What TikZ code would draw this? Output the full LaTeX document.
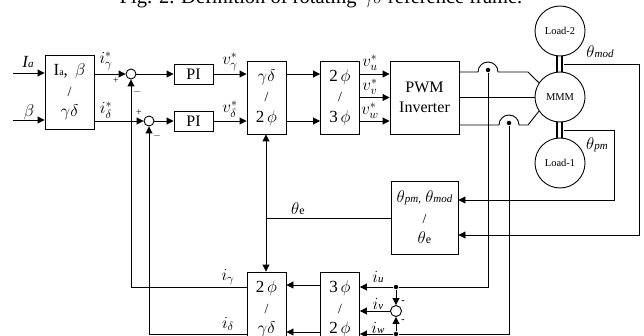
\RequirePackage{fix-cm}
\documentclass[tikz,border=0pt]{standalone}
\usepackage{amsmath}
\usepackage{fontspec}
\setmainfont{Liberation Serif}
\usetikzlibrary{arrows.meta}
\newcommand{\ratiotext}[2]{#1\\{\fontsize{14}{14}\selectfont /}\\#2}
\newcommand{\smalltext}[1]{{\itshape\fontsize{11}{11}\selectfont #1}}
\tikzset{
    blockbox/.style={draw, inner sep=0pt, align=center, minimum width=39pt, minimum height=73pt,
        font=\fontsize{17}{20.5}\selectfont},
    pibox/.style={draw, inner sep=0pt, minimum width=39pt, minimum height=20pt, font=\fontsize{16}{16}\selectfont},
    mach/.style={draw, circle, inner sep=0pt, minimum size=50pt, font=\fontsize{10.5}{11}\selectfont},
    sumnode/.style={draw, circle, inner sep=0pt, minimum size=10pt},
    dotnode/.style={fill, circle, inner sep=0pt, minimum size=4.5pt},
    lab/.style={inner sep=0pt, font=\fontsize{17}{17}\selectfont},
    signlab/.style={inner sep=0pt, font=\fontsize{10}{10}\selectfont},
}

\begin{document}
\begin{tikzpicture}[x=1pt, y=-1pt, line width=0.9pt, >={Triangle[length=7pt,width=7pt]}]
    \clip (0,0) rectangle (644,336);
    \node[anchor=base, inner sep=0pt, font=\fontsize{20.5}{20.5}\selectfont] (caption) at (321,4)
        {Fig. 2. Definition of rotating $\gamma\delta$ reference frame.};

    % --- Upper row ---
    \node[blockbox, minimum width=49pt, minimum height=74pt] (convab) at (69.5,92)
        {\ratiotext{I{\fontsize{10}{10}\selectfont a}, \,$\beta$}{$\gamma\delta$}};
    \node[sumnode] (sumg) at (131,74) {};
    \node[sumnode] (sumd) at (149,121) {};
    \node[pibox] (pig) at (193.5,74) {PI};
    \node[pibox] (pid) at (193.5,121) {PI};
    \node[blockbox] (convgd) at (266.5,97.5) {\ratiotext{$\gamma\delta$}{2\,$\phi$}};
    \node[blockbox] (conv23) at (340,97.5) {\ratiotext{2\,$\phi$}{3\,$\phi$}};
    \node[blockbox, minimum width=69pt, font=\fontsize{16}{20}\selectfont] (pwm) at (424.5,97.5) {PWM\\Inverter};

    % --- Machines ---
    \node[mach] (mmm) at (560,97) {MMM};
    \node[mach] (loadb) at (560,31) {Load-2};
    \node[mach] (loada) at (560,163) {Load-1};

    % --- Lower blocks ---
    \node[blockbox, minimum width=67pt] (thetabox) at (424.5,217.5)
        {\ratiotext{$\theta$\smalltext{pm,} $\theta$\smalltext{mod}}{$\theta${\fontsize{12}{12}\selectfont e}}};
    \node[blockbox, minimum height=74pt] (convlowa) at (266.5,309) {\ratiotext{2\,$\phi$}{$\gamma\delta$}};
    \node[blockbox, minimum height=74pt] (convlowb) at (340,309) {\ratiotext{3\,$\phi$}{2\,$\phi$}};
    \node[sumnode, minimum size=11pt] (sumi) at (396,311) {};
    \node[dotnode] (dotu) at (396,287) {};
    \node[dotnode] (dotw) at (396,334) {};
    \node[dotnode] (tapu) at (488,70) {};
    \node[dotnode] (tapw) at (509,123) {};

    \coordinate (ina) at (13,73);
    \coordinate (inb) at (13,120);
    \coordinate (igam) at (131,287);
    \coordinate (idel) at (149,334);
    \coordinate (tejct) at (266,218);
    \coordinate (modtap) at (564,64);
    \coordinate (pmtap) at (564,130);
    \coordinate (modend) at (639,235);
    \coordinate (pmend) at (614,200);

    % --- Forward path ---
    \draw[->] (ina) -- (convab.west |- ina);
    \draw[->] (inb) -- (convab.west |- inb);
    \draw[->] (convab.east |- sumg) -- (sumg);
    \draw[->] (convab.east |- sumd) -- (sumd);
    \draw[->] (sumg) -- (pig);
    \draw[->] (sumd) -- (pid);
    \draw[->] (pig) -- (convgd.west |- pig);
    \draw[->] (pid) -- (convgd.west |- pid);
    \draw[->] (convgd.east |- pig) -- (conv23.west |- pig);
    \draw[->] (convgd.east |- pid) -- (conv23.west |- pid);
    \draw[->] (conv23.east |- pig) -- (pwm.west |- pig);
    \draw[->] (conv23.east) -- (pwm.west);
    \draw[->] (conv23.east |- pid) -- (pwm.west |- pid);

    % --- Inverter to machine, with the humps ---
    \draw (pwm.east |- 0,72) -- (478,72) arc[start angle=180, end angle=0, radius=10pt]
        -- (528,72) -- (mmm.146);
    \draw (pwm.east |- mmm) -- (mmm.west);
    \draw (pwm.east |- 0,125) -- (499,125) arc[start angle=180, end angle=0, radius=10pt]
        -- (528,125) -- (mmm.214);

    % --- Shafts ---
    \draw[line width=1.5pt] ([xshift=-3pt]loadb.south) -- ([xshift=-3pt]mmm.north);
    \draw[line width=2.8pt] ([xshift=2pt]loadb.south) -- ([xshift=2pt]mmm.north);
    \draw[line width=1.5pt] ([xshift=-3pt]mmm.south) -- ([xshift=-3pt]loada.north);
    \draw[line width=2.8pt] ([xshift=2pt]mmm.south) -- ([xshift=2pt]loada.north);

    % --- Position feedback ---
    \draw[->] (modtap) -| (modend) -- (thetabox.east |- modend);
    \draw[->] (pmtap) -| (pmend) -- (thetabox.east |- pmend);
    \draw (thetabox.west |- tejct) -- (tejct);
    \draw[->] (tejct) -- (convgd.south -| tejct);
    \draw[->] (tejct) -- (convlowa.north -| tejct);

    % --- Current feedback ---
    \draw (tapu) |- (dotu);
    \draw (tapw) |- (dotw);
    \draw[->] (dotu) -- (convlowb.east |- dotu);
    \draw[->] (sumi) -- (convlowb.east |- sumi);
    \draw[->] (dotw) -- (convlowb.east |- dotw);
    \draw[->] (dotu) -- (sumi);
    \draw[->] (dotw) -- (sumi);
    \draw[->] ([yshift=24pt]convlowb.west) -- ([yshift=24pt]convlowa.east);
    \draw[->] ([yshift=-23pt]convlowb.west) -- ([yshift=-23pt]convlowa.east);
    \draw[->] (convlowa.west |- igam) -- (igam) -- (sumg);
    \draw[->] (convlowa.west |- idel) -- (idel) -- (sumd);

    % --- Labels ---
    \node[lab] (lia) at (28,62) {\itshape I\smalltext{a}};
    \node[lab] (lbeta) at (29,112) {$\beta$};
    \node[lab] (ligs) at (106,61) {$i_\gamma^*$};
    \node[lab] (lids) at (106,110) {$i_\delta^*$};
    \node[lab] (lvgs) at (230,62) {$v_\gamma^*$};
    \node[lab] (lvds) at (230,109) {$v_\delta^*$};
    \node[lab] (lvus) at (370,63) {$v_u^*$};
    \node[lab] (lvvs) at (370,87) {$v_v^*$};
    \node[lab] (lvws) at (370,111) {$v_w^*$};
    \node[lab] (lmod) at (600,52) {$\theta$\smalltext{mod}};
    \node[lab] (lpm) at (597,145) {$\theta$\smalltext{pm}};
    \node[lab] (lte) at (298,209) {$\theta${\fontsize{12}{12}\selectfont e}};
    \node[lab] (ligam) at (228,277) {$i_\gamma$};
    \node[lab] (lidel) at (228,324) {$i_\delta$};
    \node[lab] (liu) at (378,277) {$i$\smalltext{u}};
    \node[lab] (liv) at (378,304) {$i$\smalltext{v}};
    \node[lab] (liw) at (378,328) {$i$\smalltext{w}};
    \node[signlab] (pg) at (116,81) {+};
    \node[signlab] (mg) at (137,92) {$-$};
    \node[signlab] (pd) at (139,113) {+};
    \node[signlab] (md) at (157,136) {$-$};
    \node[signlab] (mu) at (403,302) {\textbf{-}};
    \node[signlab] (mw) at (403,321) {\textbf{-}};
\end{tikzpicture}
\end{document}
